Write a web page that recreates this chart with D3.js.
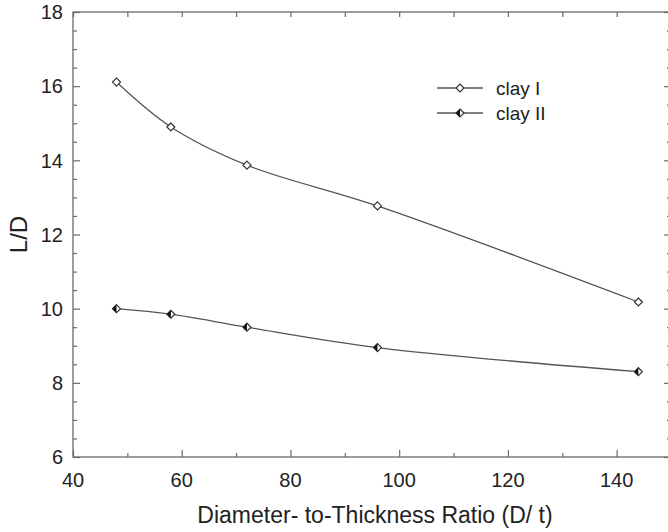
<!DOCTYPE html>
<head>
  <meta charset="utf-8">
  <script src='https://d3js.org/d3.v7.min.js'></script>
  <style>
    body {
      font-family: "Liberation Sans", Arial, sans-serif;
      margin: 0;
      background: #fff;
    }
  </style>
</head>

<body>
<div id='vis'></div>

<script>
const ratio = [48, 58, 72, 96, 144];
const clayI = [16.11, 14.9, 13.87, 12.77, 10.18];
const clayII = [10.0, 9.85, 9.5, 8.95, 8.3];
const seriesNames = ['clay I', 'clay II'];
const xTicks = [40, 60, 80, 100, 120, 140];
const yTicks = [6, 8, 10, 12, 14, 16, 18];

const width = 668;
const height = 532;
const margin = { left: 73, right: -3, top: 12, bottom: 75 };
const axisColour = '#6a6a6a';
const lineColour = '#555';

const x = d3.scaleLinear().domain([40, 150]).range([margin.left, width - margin.right]);
const y = d3.scaleLinear().domain([6, 18]).range([height - margin.bottom, margin.top]);

const svg = d3.select('#vis')
  .append('svg')
  .attr('width', width)
  .attr('height', height);

// ticks, all pointing inward
function tickAxis(axis, values, size, tr) {
  const g = svg.append('g')
    .attr('transform', tr)
    .call(axis.tickValues(values).tickSize(size).tickFormat(''));
  g.select('.domain').remove();
  g.selectAll('line').attr('stroke', axisColour).attr('stroke-width', 1.2);
}

const xMinor = d3.range(50, 150, 20);
const yMinor = d3.range(6.5, 18, 0.5).filter(v => v % 2 !== 0);

tickAxis(d3.axisBottom(x), xTicks, -7, `translate(0,${y(6)})`);
tickAxis(d3.axisBottom(x), xMinor, -4, `translate(0,${y(6)})`);
tickAxis(d3.axisTop(x), xTicks.concat(xMinor), -5, `translate(0,${y(18)})`);
tickAxis(d3.axisLeft(y), yTicks, -7, `translate(${x(40)},0)`);
tickAxis(d3.axisLeft(y), yMinor, -4, `translate(${x(40)},0)`);
tickAxis(d3.axisRight(y), yTicks, -7, `translate(${x(150)},0)`);
tickAxis(d3.axisRight(y), yMinor, -4, `translate(${x(150)},0)`);

svg.append('rect')
  .attr('x', x(40))
  .attr('y', y(18))
  .attr('width', x(150) - x(40))
  .attr('height', y(6) - y(18))
  .attr('fill', 'none')
  .attr('stroke', axisColour)
  .attr('stroke-width', 1.3);

// tick labels
svg.selectAll('.xlab')
  .data(xTicks)
  .enter()
  .append('text')
  .attr('x', d => x(d))
  .attr('y', y(6) + 30)
  .attr('text-anchor', 'middle')
  .style('font-size', '20px')
  .attr('fill', '#222')
  .text(d => d);

svg.selectAll('.ylab')
  .data(yTicks)
  .enter()
  .append('text')
  .attr('x', x(40) - 10)
  .attr('y', d => y(d))
  .attr('dy', '0.36em')
  .attr('text-anchor', 'end')
  .style('font-size', '20px')
  .attr('fill', '#222')
  .text(d => d);

svg.append('text')
  .attr('x', 375)
  .attr('y', 523)
  .attr('text-anchor', 'middle')
  .style('font-size', '23px')
  .attr('fill', '#222')
  .text('Diameter- to-Thickness Ratio (D/ t)');

svg.append('text')
  .attr('transform', `translate(27,${(y(6) + y(18)) / 2}) rotate(-90)`)
  .attr('text-anchor', 'middle')
  .style('font-size', '24px')
  .attr('fill', '#222')
  .text('L/D');

// lines
const line = d3.line()
  .x(d => x(d[0]))
  .y(d => y(d[1]))
  .curve(d3.curveCatmullRom.alpha(0.5));

const series = [clayI, clayII].map((vals, i) => ({
  name: seriesNames[i],
  points: ratio.map((r, j) => [r, vals[j]])
}));

svg.selectAll('.series')
  .data(series)
  .enter()
  .append('path')
  .attr('d', d => line(d.points))
  .attr('fill', 'none')
  .attr('stroke', lineColour)
  .attr('stroke-width', 1.3);

const s = 4;
function drawMarker(g, cx, cy, half) {
  g.append('path')
    .attr('d', `M${cx},${cy - s}L${cx + s},${cy}L${cx},${cy + s}L${cx - s},${cy}Z`)
    .attr('fill', '#fff')
    .attr('stroke', '#333')
    .attr('stroke-width', 1.2);
  if (half) {
    g.append('path')
      .attr('d', `M${cx},${cy - s}L${cx - s},${cy}L${cx},${cy + s}Z`)
      .attr('fill', '#111');
  }
}

const markers = svg.append('g');
series.forEach((d, i) => {
  d.points.forEach(p => drawMarker(markers, x(p[0]), y(p[1]), i === 1));
});

// legend
const legend = svg.append('g');
series.forEach((d, i) => {
  const ly = 88 + i * 25;
  legend.append('line')
    .attr('x1', 437).attr('x2', 483)
    .attr('y1', ly).attr('y2', ly)
    .attr('stroke', lineColour)
    .attr('stroke-width', 1.3);
  drawMarker(legend, 460, ly, i === 1);
  legend.append('text')
    .attr('x', 496)
    .attr('y', ly)
    .attr('dy', '0.35em')
    .style('font-size', '19px')
    .attr('fill', '#222')
    .text(d.name);
});
</script>
</body>
